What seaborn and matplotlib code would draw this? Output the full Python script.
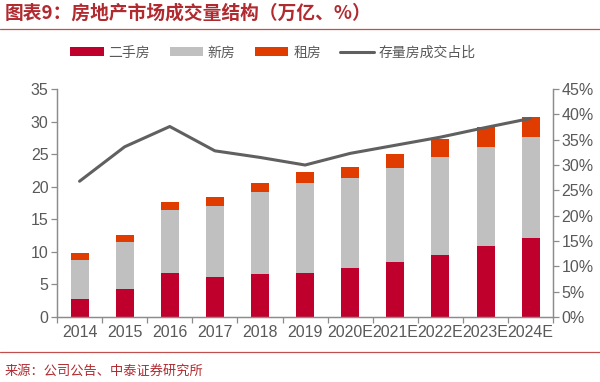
import numpy as np
import pandas as pd
import matplotlib
matplotlib.use("Agg")
import matplotlib.pyplot as plt
import seaborn as sns
from matplotlib.patches import Patch
from matplotlib.lines import Line2D
from matplotlib.ticker import FixedLocator, PercentFormatter

years = ["2014", "2015", "2016", "2017", "2018", "2019",
         "2020E", "2021E", "2022E", "2023E", "2024E"]
second_hand = [2.7, 4.25, 6.7, 6.1, 6.55, 6.8, 7.5, 8.5, 9.6, 10.9, 12.1]
new_house = [6.05, 7.25, 9.8, 10.9, 12.65, 13.8, 13.8, 14.4, 15.0, 15.2, 15.5]
rent = [1.05, 1.1, 1.15, 1.4, 1.4, 1.7, 1.7, 2.2, 2.7, 3.0, 3.1]
stock_share = [26.8, 33.6, 37.6, 32.8, 31.5, 30.0, 32.3, 33.9, 35.5, 37.4, 39.2]

C_RED = "#C0002C"
C_GREY = "#C0C0C0"
C_ORANGE = "#E03C00"
C_LINE = "#606060"
C_AX = "#8C8C8C"
C_TXT = "#595959"

sns.set_theme(style="white")
plt.rcParams["font.family"] = ["Noto Sans CJK SC", "DejaVu Sans"]

df = pd.DataFrame({"year": years, "second": second_hand, "new": new_house,
                   "rent": rent, "share": stock_share})
df["lvl2"] = df["second"] + df["new"]
df["lvl3"] = df["lvl2"] + df["rent"]

fig = plt.figure(figsize=(6, 3.82), dpi=100)
ax = fig.add_axes([0.095, 0.170, 0.827, 0.597])

for col, c in [("lvl3", C_ORANGE), ("lvl2", C_GREY), ("second", C_RED)]:
    sns.barplot(data=df, x="year", y=col, order=years, color=c, width=0.4,
                saturation=1, ax=ax, edgecolor="none", linewidth=0)

ax.set_ylim(0, 35)
ax.set_xlim(-0.5, len(years) - 0.5)
ax.set_yticks(np.arange(0, 36, 5))
ax.set_xlabel("")
ax.set_ylabel("")

ax2 = ax.twinx()
sns.lineplot(x=np.arange(len(years)), y=df["share"], color=C_LINE, linewidth=2.2, ax=ax2)
ax2.set_ylim(0, 45)
ax2.set_yticks(np.arange(0, 46, 5))
ax2.yaxis.set_major_formatter(PercentFormatter(decimals=0))
ax2.set_ylabel("")
ax2.set_xlim(-0.5, len(years) - 0.5)

for a in (ax, ax2):
    for s in a.spines.values():
        s.set_color(C_AX)
        s.set_linewidth(0.9)
    a.spines["top"].set_visible(False)

ax.tick_params(axis="y", which="major", direction="out", length=4, width=0.9,
               color=C_AX, labelcolor=C_TXT, labelsize=11.5, pad=2, left=True)
ax2.tick_params(axis="y", which="major", direction="out", length=4, width=0.9,
                color=C_AX, labelcolor=C_TXT, labelsize=11.5, pad=2, right=True)
for lab in ax.get_yticklabels() + ax2.get_yticklabels():
    lab.set_family(["Liberation Sans", "DejaVu Sans"])

ax.xaxis.set_minor_locator(FixedLocator(np.arange(-0.5, len(years), 1.0)))
ax.tick_params(axis="x", which="major", length=0, labelcolor=C_TXT, labelsize=11.5, pad=6)
ax.tick_params(axis="x", which="minor", direction="out", length=4, width=0.9,
               color=C_AX, bottom=True)
for lab in ax.get_xticklabels():
    lab.set_family(["Liberation Sans", "DejaVu Sans"])

handles = [Patch(facecolor=C_RED, edgecolor="none"),
           Patch(facecolor=C_GREY, edgecolor="none"),
           Patch(facecolor=C_ORANGE, edgecolor="none"),
           Line2D([0], [0], color=C_LINE, linewidth=2.2)]
labels = ["二手房", "新房", "租房", "存量房成交占比"]
fig.legend(handles, labels, loc="center", bbox_to_anchor=(0.455, 0.862), ncol=4,
           frameon=False, fontsize=10, handlelength=2.4, handleheight=0.6,
           columnspacing=1.4, handletextpad=0.35, labelcolor=C_TXT)

fig.text(0.008, 0.965, "图表9：房地产市场成交量结构（万亿、%）", color="#B02A30",
         fontsize=13.5, fontweight="bold", va="center", ha="left", style="italic")
fig.add_artist(Line2D([0, 1], [0.925, 0.925], transform=fig.transFigure,
                      color="#C0504D", linewidth=0.9))
fig.add_artist(Line2D([0, 1], [0.079, 0.079], transform=fig.transFigure,
                      color="#C0504D", linewidth=0.9))
fig.text(0.008, 0.028, "来源：公司公告、中泰证券研究所", color="#B02A30",
         fontsize=9.5, va="center", ha="left")

fig.savefig("out.png", dpi=100)
